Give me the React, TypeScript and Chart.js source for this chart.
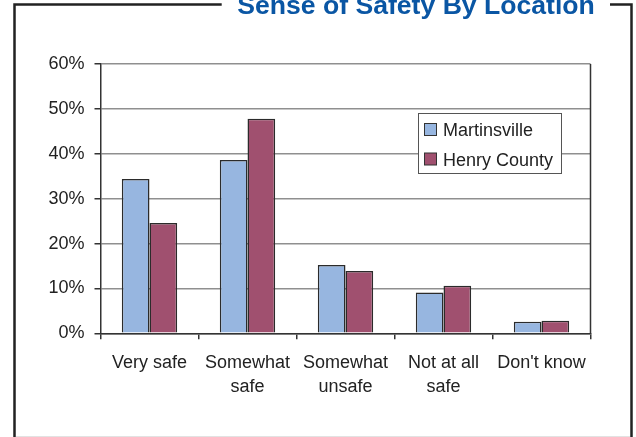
import React, { useEffect, useRef } from "react";
import { Chart, registerables } from "chart.js";

Chart.register(...registerables);

const categories: (string | string[])[] = [
  "Very safe",
  ["Somewhat", "safe"],
  ["Somewhat", "unsafe"],
  ["Not at all", "safe"],
  "Don't know",
];
const martinsville = [34.4, 38.6, 15.2, 9.1, 2.6];
const henryCounty = [24.6, 47.8, 13.9, 10.6, 2.8];
const seriesNames = ["Martinsville", "Henry County"];
const seriesColors = ["#97b6e0", "#a0506f"];
const chartTitle = "Sense of Safety By Location";

const FONT = 'Arial, "Liberation Sans", sans-serif';

const framePlugin = {
  id: "framePlugin",
  afterDraw(chart: any) {
    const ctx = chart.ctx;
    const area = chart.chartArea;
    ctx.save();
    // plot right border
    ctx.strokeStyle = "#333";
    ctx.lineWidth = 1.5;
    ctx.beginPath();
    ctx.moveTo(area.right, area.top);
    ctx.lineTo(area.right, area.bottom);
    ctx.stroke();

    // outer frame with gap for title
    ctx.strokeStyle = "#222";
    ctx.lineWidth = 2.5;
    ctx.beginPath();
    ctx.moveTo(221.7, 4.5);
    ctx.lineTo(14.5, 4.5);
    ctx.lineTo(14.5, 440);
    ctx.moveTo(610, 4.5);
    ctx.lineTo(631.5, 4.5);
    ctx.lineTo(631.5, 440);
    ctx.stroke();
    ctx.strokeStyle = "#e2e2e2";
    ctx.lineWidth = 1;
    ctx.beginPath();
    ctx.moveTo(16, 436.5);
    ctx.lineTo(630, 436.5);
    ctx.stroke();

    // title
    ctx.fillStyle = "#0a56a4";
    ctx.font = "bold 26.6px " + FONT;
    ctx.textAlign = "center";
    ctx.textBaseline = "alphabetic";
    ctx.fillText(chartTitle, 416, 14);

    // legend box
    const lx = 418, ly = 113, lw = 143, lh = 60;
    ctx.fillStyle = "#ffffff";
    ctx.fillRect(lx, ly, lw, lh);
    ctx.strokeStyle = "#555";
    ctx.lineWidth = 1;
    ctx.strokeRect(lx + 0.5, ly + 0.5, lw, lh);
    ctx.font = "18px " + FONT;
    ctx.textAlign = "left";
    ctx.textBaseline = "alphabetic";
    chart.data.datasets.forEach((ds: any, i: number) => {
      const my = 123.5 + i * 29.5;
      ctx.fillStyle = ds.backgroundColor;
      ctx.fillRect(424.5, my, 12, 12);
      ctx.strokeStyle = "#333";
      ctx.strokeRect(424.5, my, 12, 12);
      ctx.fillStyle = "#222";
      ctx.fillText(ds.label, 443, 136 + i * 29.7);
    });
    ctx.restore();
  },
};

export default function App() {
  const ref = useRef<HTMLCanvasElement | null>(null);
  useEffect(() => {
    if (!ref.current) return;
    const chart = new Chart(ref.current, {
      type: "bar",
      data: {
        labels: categories,
        datasets: [
          {
            label: seriesNames[0],
            data: martinsville,
            backgroundColor: seriesColors[0],
            borderColor: "#2b2b2b",
            borderWidth: 1.5,
          },
          {
            label: seriesNames[1],
            data: henryCounty,
            backgroundColor: seriesColors[1],
            borderColor: "#2b2b2b",
            borderWidth: 1.5,
          },
        ],
      },
      options: {
        responsive: false,
        animation: false,
        devicePixelRatio: 1,
        categoryPercentage: 0.565,
        barPercentage: 1,
        layout: { padding: { left: 0, right: 45.5, top: 64, bottom: 0 } },
        plugins: {
          legend: { display: false },
          title: { display: false },
          tooltip: { enabled: false },
        },
        scales: {
          x: {
            afterFit: (s: any) => {
              s.height = 103.7;
            },
            grid: {
              display: true,
              drawOnChartArea: false,
              offset: true,
              tickLength: 6,
              color: "#333",
              lineWidth: 1.5,
            },
            border: { display: true, color: "#333", width: 1.5 },
            ticks: {
              color: "#222",
              font: { family: FONT, size: 18, lineHeight: 1.33 },
              padding: 12,
              maxRotation: 0,
              autoSkip: false,
            },
          },
          y: {
            min: 0,
            max: 60,
            afterFit: (s: any) => {
              s.width = 100.5;
            },
            grid: {
              color: "#8f8f8f",
              lineWidth: 1.5,
              tickLength: 6,
              tickColor: "#333",
            },
            border: { display: true, color: "#333", width: 1.5 },
            ticks: {
              stepSize: 10,
              color: "#222",
              font: { family: FONT, size: 18 },
              padding: 10,
              callback: (v: any) => v + "%",
            },
          },
        },
      },
      plugins: [framePlugin],
    });
    return () => chart.destroy();
  }, []);
  return (
    <div style={{ position: "absolute", left: 0, top: 0, width: 636, height: 437, background: "#fff" }}>
      <canvas ref={ref} width={636} height={437} style={{ display: "block" }} />
    </div>
  );
}
